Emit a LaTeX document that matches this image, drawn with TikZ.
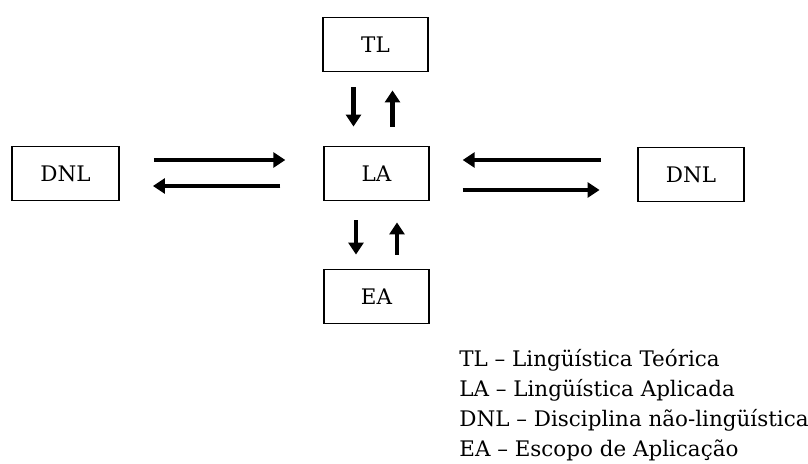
\documentclass[tikz,border=0pt]{standalone}
\usepackage{fontspec}
\setmainfont{DejaVu Serif}
\usetikzlibrary{arrows.meta}

\tikzset{
  area-box/.style={rectangle, draw=black, line width=1.1pt, minimum width=2.09cm, minimum height=1.08cm, inner sep=0pt, font=\fontsize{12.2}{14}\selectfont},
  area-flow/.style={-{Triangle[length=0.24cm, width=0.3cm]}, line width=2.8pt, draw=black},
  area-key/.style={anchor=base west, inner sep=0pt, font=\fontsize{12.2}{14}\selectfont},
}

\begin{document}
\begin{tikzpicture}

    \useasboundingbox (0, 0) rectangle (16.16, -9.26);

    % Nodes: central column
    \node[area-box] (tl) at (7.51, -0.89) {TL};
    \node[area-box] (la) at (7.53, -3.47) {LA};
    \node[area-box] (ea) at (7.53, -5.93) {EA};

    % Nodes: side boxes
    \node[area-box, minimum width=2.14cm] (dnlw) at (1.31, -3.47)  {DNL};
    \node[area-box, minimum width=2.12cm] (dnle) at (13.82, -3.49) {DNL};

    % Edges: TL <-> LA
    \draw[area-flow, shorten <=0.30cm, shorten >=0.38cm] ([xshift=-0.44cm]tl.south) -- ([xshift=-0.44cm]tl.south |- la.north);
    \draw[area-flow, shorten <=0.38cm, shorten >=0.36cm] ([xshift=0.34cm]tl.south |- la.north) -- ([xshift=0.34cm]tl.south);

    % Edges: LA <-> EA
    \draw[area-flow, shorten <=0.38cm, shorten >=0.28cm] ([xshift=-0.41cm]la.south) -- ([xshift=-0.41cm]ea.north);
    \draw[area-flow, shorten <=0.28cm, shorten >=0.42cm] ([xshift=0.41cm]ea.north) -- ([xshift=0.41cm]la.south);

    % Edges: west DNL <-> LA
    \draw[area-flow, shorten <=0.68cm, shorten >=0.76cm] ([yshift=0.27cm]dnlw.east) -- ([yshift=0.27cm]la.west);
    \draw[area-flow, shorten <=0.86cm, shorten >=0.66cm] ([yshift=-0.25cm]la.west) -- ([yshift=-0.25cm]dnlw.east);

    % Edges: LA <-> east DNL
    \draw[area-flow, shorten <=0.73cm, shorten >=0.66cm] ([yshift=0.27cm]la.east -| dnle.west) -- ([yshift=0.27cm]la.east);
    \draw[area-flow, shorten <=0.66cm, shorten >=0.75cm] ([yshift=-0.33cm]la.east) -- ([yshift=-0.33cm]la.east -| dnle.west);

    % Labels: key
    \node[area-key] (keytl)  at (9.18, -7.32) {TL -- Lingüística Teórica};
    \node[area-key] (keyla)  at (9.18, -7.92) {LA -- Lingüística Aplicada};
    \node[area-key] (keydnl) at (9.18, -8.52) {DNL -- Disciplina não-lingüística};
    \node[area-key] (keyea)  at (9.18, -9.12) {EA -- Escopo de Aplicação};

\end{tikzpicture}
\end{document}
